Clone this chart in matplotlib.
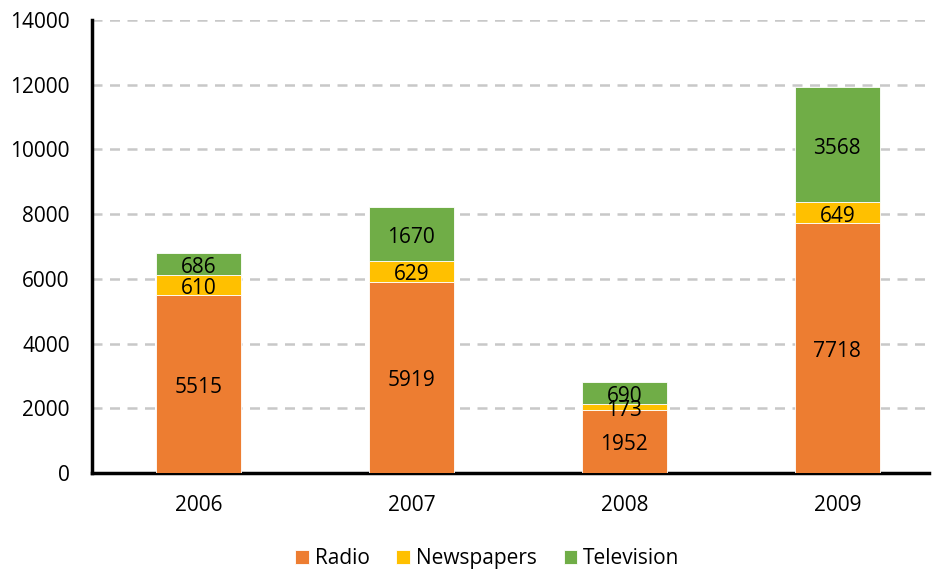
import matplotlib
matplotlib.use("Agg")
import matplotlib.pyplot as plt
import numpy as np

# --- Data ---
years = ["2006", "2007", "2008", "2009"]
radio = [5515, 5919, 1952, 7718]
newspapers = [610, 629, 173, 649]
television = [686, 1670, 690, 3568]

# --- Colors ---
COL_RADIO = "#ED7D31"
COL_NEWS = "#FFC000"
COL_TV = "#70AD47"

plt.rcParams['font.family'] = ['Open Sans', 'DejaVu Sans']

fig = plt.figure(figsize=(9.33, 5.70), dpi=100)
ax = fig.add_axes([0.0986, 0.170, 0.897, 0.795])

x = np.arange(len(years))
w = 0.4

b1 = ax.bar(x, radio, w, color=COL_RADIO, edgecolor="white", linewidth=0.6, label="Radio", zorder=3)
bottom2 = np.array(radio)
b2 = ax.bar(x, newspapers, w, bottom=bottom2, color=COL_NEWS, edgecolor="white", linewidth=0.6,
            label="Newspapers", zorder=3)
bottom3 = bottom2 + np.array(newspapers)
b3 = ax.bar(x, television, w, bottom=bottom3, color=COL_TV, edgecolor="white", linewidth=0.6,
            label="Television", zorder=3)

for bars in (b1, b2, b3):
    anns = ax.bar_label(bars, label_type="center", fontsize=15, color="black")
    for a in anns:
        a.xyann = (0, -2.5)  # nudge down a bit, like the reference

# Axes styling
ax.set_ylim(0, 14000)
ax.set_yticks(np.arange(0, 14001, 2000))
ax.set_xlim(-0.5, 3.43)
ax.set_xticks(x)
ax.set_xticklabels(years)
ax.tick_params(axis="both", length=0, labelsize=15, colors="black")
ax.tick_params(axis="x", pad=16)
ax.tick_params(axis="y", pad=16)

ax.yaxis.grid(True, color="#c8c8c8", linestyle=(0, (4, 3)), linewidth=1.8, zorder=0)
ax.set_axisbelow(True)

for side in ("top", "right"):
    ax.spines[side].set_visible(False)
ax.spines["left"].set_linewidth(2.5)
ax.spines["bottom"].set_linewidth(2.5)
ax.spines["left"].set_color("black")
ax.spines["bottom"].set_color("black")

fig.legend(handles=[b1, b2, b3], labels=["Radio", "Newspapers", "Television"],
           loc="center", bbox_to_anchor=(0.5225, 0.02), ncol=3, frameon=False,
           fontsize=15, handlelength=0.65, handleheight=0.65, handletextpad=0.3,
           columnspacing=1.27)

fig.savefig("out.png", dpi=100)
